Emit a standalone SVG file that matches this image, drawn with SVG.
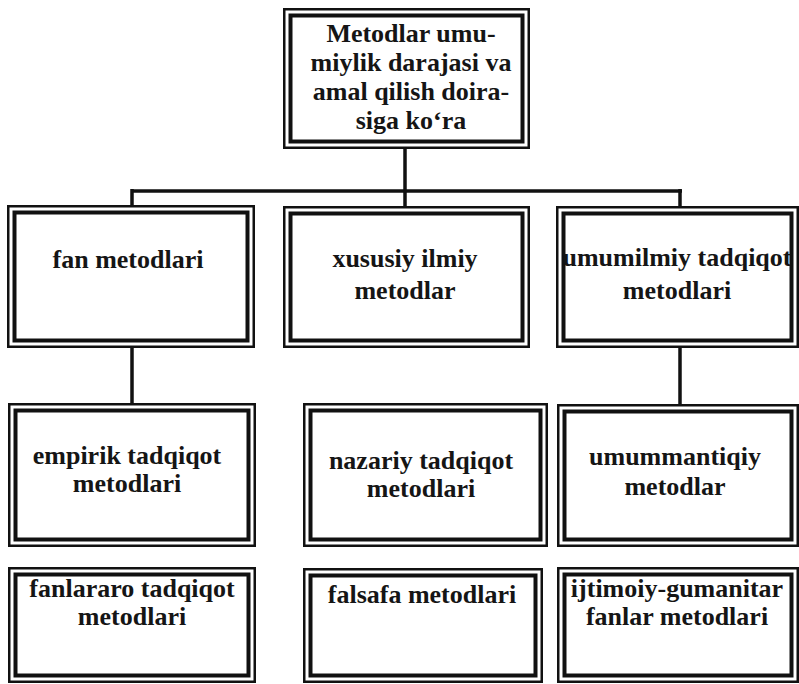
<svg xmlns="http://www.w3.org/2000/svg" width="799" height="684" viewBox="0 0 799 684">
<style>
.o{fill:#fff;stroke:#111;stroke-width:2.5}
.i{fill:none;stroke:#111;stroke-width:4}
.t{font-family:"Liberation Serif","Times New Roman",serif;font-weight:bold;font-size:26px;fill:#151515;text-anchor:middle}
.c{stroke:#111;stroke-width:3.5;fill:none}
</style>
<rect width="799" height="684" fill="#fff"/>
<g id="connectors">
<line class="c" x1="405" y1="148" x2="405" y2="207"/>
<line class="c" x1="131" y1="191" x2="682" y2="191"/>
<line class="c" x1="132" y1="189" x2="132" y2="206"/>
<line class="c" x1="680" y1="189" x2="680" y2="207"/>
<line class="c" x1="132" y1="347" x2="132" y2="404"/>
<line class="c" x1="680" y1="347" x2="680" y2="405"/>
</g>
<g id="n0">
<rect class="o" x="284.25" y="9.25" width="244.5" height="138.5"/>
<rect class="i" x="290.5" y="15.5" width="232" height="126"/>
<text class="t" x="411" y="42">Metodlar umu-</text>
<text class="t" x="411" y="71">miylik darajasi va</text>
<text class="t" x="411" y="100">amal qilish doira-</text>
<text class="t" x="411" y="129">siga ko‘ra</text>
</g>
<g id="n1">
<rect class="o" x="8.25" y="206.25" width="245.5" height="140.5"/>
<rect class="i" x="14.5" y="212.5" width="233" height="128"/>
<text class="t" x="128" y="268">fan metodlari</text>
</g>
<g id="n2">
<rect class="o" x="284.25" y="207.25" width="244.5" height="139.5"/>
<rect class="i" x="290.5" y="213.5" width="232" height="127"/>
<text class="t" x="405" y="267">xususiy ilmiy</text>
<text class="t" x="405" y="299">metodlar</text>
</g>
<g id="n3">
<rect class="o" x="557.25" y="207.25" width="240.5" height="139.5"/>
<rect class="i" x="563.5" y="213.5" width="228" height="127"/>
<text class="t" x="677" y="266">umumilmiy tadqiqot</text>
<text class="t" x="677" y="299">metodlari</text>
</g>
<g id="n4">
<rect class="o" x="9.25" y="404.25" width="245.5" height="141.5"/>
<rect class="i" x="15.5" y="410.5" width="233" height="129"/>
<text class="t" x="127" y="464">empirik tadqiqot</text>
<text class="t" x="127" y="492">metodlari</text>
</g>
<g id="n5">
<rect class="o" x="304.25" y="404.25" width="242.5" height="141.5"/>
<rect class="i" x="310.5" y="410.5" width="230" height="129"/>
<text class="t" x="421" y="469">nazariy tadqiqot</text>
<text class="t" x="421" y="497">metodlari</text>
</g>
<g id="n6">
<rect class="o" x="558.25" y="405.25" width="239.5" height="140.5"/>
<rect class="i" x="564.5" y="411.5" width="227" height="128"/>
<text class="t" x="675" y="465">umummantiqiy</text>
<text class="t" x="675" y="495">metodlar</text>
</g>
<g id="n7">
<rect class="o" x="9.25" y="568.25" width="245.5" height="113.5"/>
<rect class="i" x="15.5" y="574.5" width="233" height="101"/>
<text class="t" x="132" y="597">fanlararo tadqiqot</text>
<text class="t" x="132" y="625">metodlari</text>
</g>
<g id="n8">
<rect class="o" x="304.25" y="569.25" width="237.5" height="112.5"/>
<rect class="i" x="310.5" y="575.5" width="225" height="100"/>
<text class="t" x="422" y="603">falsafa metodlari</text>
</g>
<g id="n9">
<rect class="o" x="558.25" y="568.25" width="239.5" height="113.5"/>
<rect class="i" x="564.5" y="574.5" width="227" height="101"/>
<text class="t" x="677" y="597">ijtimoiy-gumanitar</text>
<text class="t" x="677" y="625">fanlar metodlari</text>
</g>
</svg>
